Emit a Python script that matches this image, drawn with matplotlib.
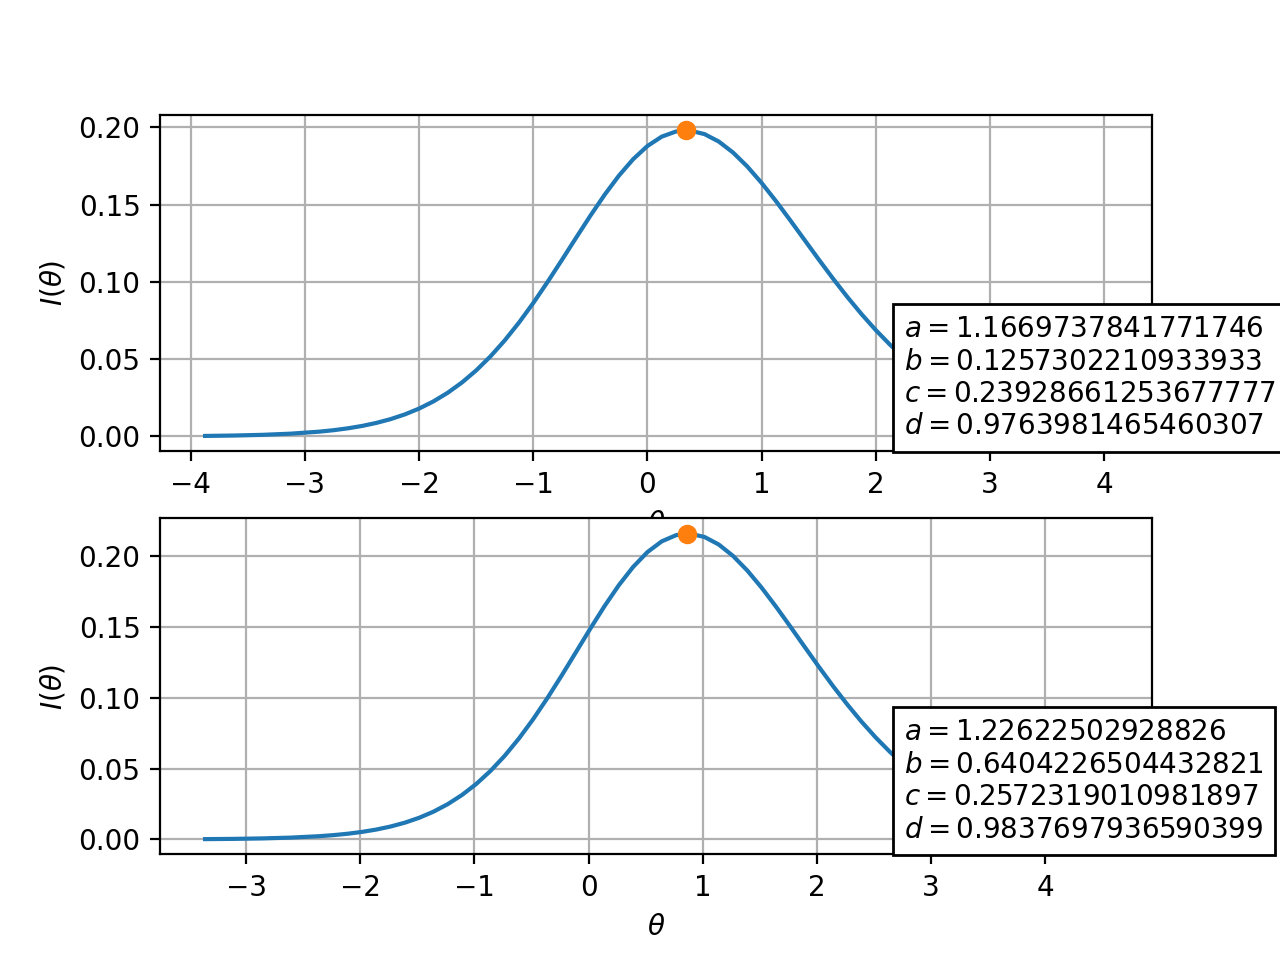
import matplotlib
matplotlib.use('Agg')
import matplotlib.pyplot as plt

# item parameters shown in the boxes
params_top = {'a': '1.1669737841771746', 'b': '0.1257302210933933',
              'c': '0.23928661253677777', 'd': '0.9763981465460307'}
params_bot = {'a': '1.22622502928826', 'b': '0.6404226504432821',
              'c': '0.2572319010981897', 'd': '0.9837697936590399'}

# item information curves
theta_top = [-3.8743, -3.6243, -3.3743, -3.1243, -2.8743, -2.7493, -2.6243, -2.4993,
             -2.3743, -2.2493, -2.1243, -1.9993, -1.8743, -1.7493, -1.6243, -1.4993,
             -1.3743, -1.2493, -1.1243, -0.9993, -0.8743, -0.7493, -0.6243, -0.4993,
             -0.3743, -0.2493, -0.1243, 0.0007, 0.1257, 0.2507, 0.3257, 0.3757,
             0.5007, 0.6257, 0.7507, 0.8757, 1.0007, 1.1257, 1.2507, 1.3757,
             1.5007, 1.6257, 1.7507, 1.8757, 2.0007, 2.1257, 2.2507, 2.3757,
             2.5007, 2.6257, 2.7507, 2.8757, 3.0007, 3.1257, 3.3757, 3.6257,
             3.8757, 4.0257]
info_top = [0.000339, 0.000596, 0.001042, 0.001807, 0.003102, 0.004044, 0.005253, 0.006795,
            0.008749, 0.011205, 0.014267, 0.018048, 0.022671, 0.028253, 0.034913, 0.042746,
            0.051817, 0.062155, 0.073712, 0.086372, 0.099950, 0.114142, 0.128585, 0.142840,
            0.156402, 0.168764, 0.179426, 0.187960, 0.194007, 0.197344, 0.198000, 0.197881,
            0.195650, 0.190838, 0.183728, 0.174676, 0.164081, 0.152390, 0.139991, 0.127282,
            0.114606, 0.102215, 0.090370, 0.079207, 0.068850, 0.059372, 0.050797, 0.043129,
            0.036346, 0.030407, 0.025250, 0.020817, 0.017049, 0.013860, 0.008986, 0.005682,
            0.003513, 0.002607]
peak_top = (0.338, 0.19801)

theta_bot = [-3.3596, -3.1096, -2.8596, -2.6096, -2.3596, -2.2346, -2.1096, -1.9846,
             -1.8596, -1.7346, -1.6096, -1.4846, -1.3596, -1.2346, -1.1096, -0.9846,
             -0.8596, -0.7346, -0.6096, -0.4846, -0.3596, -0.2346, -0.1096, 0.0154,
             0.1404, 0.2654, 0.3904, 0.5154, 0.6404, 0.7654, 0.8404, 0.8904,
             1.0154, 1.1404, 1.2654, 1.3904, 1.5154, 1.6404, 1.7654, 1.8904,
             2.0154, 2.1404, 2.2654, 2.3904, 2.5154, 2.6404, 2.7654, 2.8904,
             3.0154, 3.1404, 3.2654, 3.3904, 3.5154, 3.6404, 3.8904, 4.1404,
             4.3904, 4.5404]
info_bot = [0.000219, 0.000397, 0.000719, 0.001291, 0.002298, 0.003052, 0.004039, 0.005326,
            0.006990, 0.009128, 0.011853, 0.015295, 0.019596, 0.024911, 0.031393, 0.039189,
            0.048418, 0.059157, 0.071417, 0.085120, 0.100089, 0.116029, 0.132519, 0.149047,
            0.165006, 0.179744, 0.192632, 0.203094, 0.210664, 0.215024, 0.216040, 0.216046,
            0.213774, 0.208428, 0.200367, 0.190045, 0.177965, 0.164668, 0.150646, 0.136368,
            0.122203, 0.108477, 0.095443, 0.083257, 0.072032, 0.061832, 0.052664, 0.044513,
            0.037347, 0.031099, 0.025711, 0.021097, 0.017188, 0.013900, 0.008903, 0.005549,
            0.003373, 0.002474]
peak_bot = (0.866, 0.21611)

fig, axes = plt.subplots(2, 1, figsize=(6.4, 4.8), dpi=200)

for ax, th, info, peak, p in [(axes[0], theta_top, info_top, peak_top, params_top),
                              (axes[1], theta_bot, info_bot, peak_bot, params_bot)]:
    ax.plot(th, info)
    ax.plot(peak[0], peak[1], 'o')
    ax.grid()
    ax.set_xlabel(r'$\theta$')
    ax.set_ylabel(r'$I(\theta)$')
    txt = '\n'.join(['$%s = %s$' % (k, p[k]) for k in 'abcd'])
    ax.text(0.75, 0.05, txt, transform=ax.transAxes,
            bbox=dict(facecolor='white'))

fig.savefig('out.png')
